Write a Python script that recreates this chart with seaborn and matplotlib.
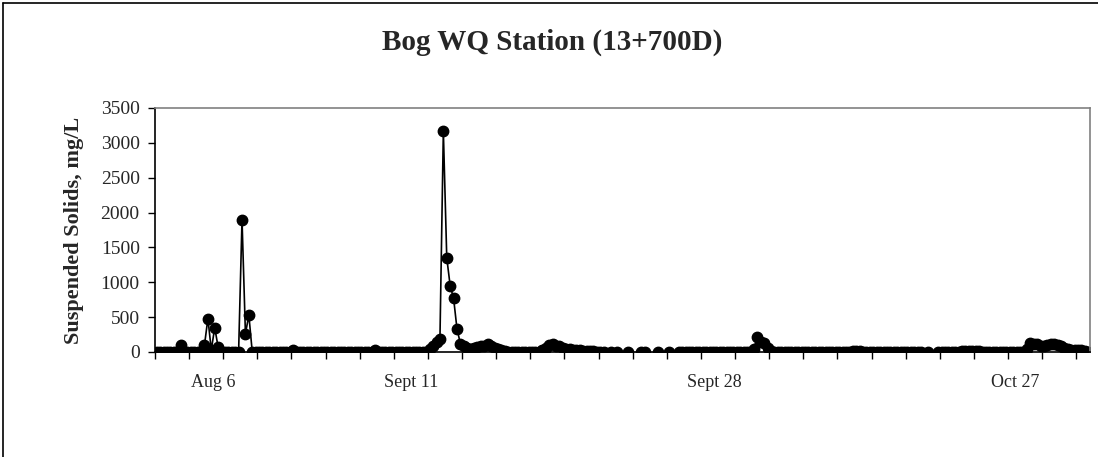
import numpy as np
import pandas as pd
import matplotlib
matplotlib.use('Agg')
import matplotlib.pyplot as plt
from matplotlib.lines import Line2D
import seaborn as sns

# daily suspended solids at the bog station, mg/L (None = no sample)
ss_aug = [
    0, 0, 0, 0, 0, 0, 0, 100, 0, 0,
    0, 0, 0, 0, 100, 480, 30, 350, 70, 0,
    0, 0, 0, 0, 0, 1900, 260, 530, 0, 0,
    0, 0, 0, 0, 0, 0, 0, 0, 0, 0,
    25, 0, 0, 0, 0, 0, 0, 0, 0, 0,
    0, 0, 0, 0, 0, 0, 0, 0, 0, 0,
    0, 0, 0, 0, 25, 0, 0, 0, 0, 0,
    0, 0, 0, 0, 0, 0, 0, 0, 0, 0,
]
ss_sept = [
    40, 90, 140, 180, 3170, 1350, 950, 770, 330, 120,
    80, 60, 50, 60, 75, 80, 90, 110, 80, 60,
    45, 35, 20, 5, 5, 5, 5, 5, 5, 5,
    5, 5, 5, 30, 60, 100, 110, 90, 80, 60,
    50, 45, 35, 30, 25, 20, 15, 10, 10, 5,
    5, 0, None, 0, None, 0, None, None, 0, None,
    None, None, 0, 0, None, None, None, 0, None, None,
    0, None, None, 0, 0, 0, 0, 0, 0, 0,
    0, 0, 0, 0, 0, 0, 0, 0, 0, 0,
    0, 0, 0, 0, 0, 50, 220, 140, 130, 60,
]
ss_oct = [
    15, 0, 0, 0, 0, 0, 0, 0, 0, 0,
    0, 0, 0, 0, 0, 0, 0, 0, 0, 0,
    0, 0, 0, 0, 15, 20, 10, 0, 0, 0,
    0, 0, 0, 0, 0, 0, 0, 0, 0, 0,
    0, 0, 0, 0, 0, None, 0, None, None, 0,
    0, 0, 0, 0, 0, 0, 10, 15, 20, 15,
    20, 10, 0, 0, 0, 0, 0, 0, 0, 0,
    0, 0, 0, 0, 0, 50, 130, 120, 110, 90,
    80, 100, 110, 110, 100, 80, 60, 40, 30, 30,
    30, 30, 20, 5,
]

date_labels = ['Aug 6', 'Sept 11', 'Sept 28', 'Oct 27']
date_label_pos = [16.5, 74.7, 163.4, 251.5]
y_ticks = [0, 500, 1000, 1500, 2000, 2500, 3000, 3500]

values = pd.Series(ss_aug + ss_sept + ss_oct, dtype=float)
df = pd.DataFrame({'day': np.arange(len(values)), 'ss': values})

sns.set_style('white')
plt.rcParams['font.family'] = ['Liberation Serif', 'DejaVu Serif']

fig = plt.figure(figsize=(10.98, 4.57), dpi=100)
ax = fig.add_axes([155 / 1098, 1 - 352 / 457, 935 / 1098, 244 / 457])

ax.plot(df['day'], df['ss'], color='black', lw=1.2, marker='o',
        markersize=7.5, markerfacecolor='black', markeredgecolor='black')

n = len(values)
ax.set_xlim(-0.5, n - 0.5)
ax.set_ylim(0, 3500)
ax.set_yticks(y_ticks)
ax.set_yticklabels([str(v) for v in y_ticks], fontsize=14)
ax.tick_params(axis='y', direction='out', length=5, width=1, color='black', pad=6, left=True)

# tick marks between categories every 10 days, labels only at dates
ax.set_xticks(np.arange(-0.5, n, 10), minor=True)
ax.set_xticks(date_label_pos)
ax.set_xticklabels(date_labels, fontsize=13)
ax.tick_params(axis='x', which='minor', direction='out', length=5, width=1, color='black', bottom=True)
ax.tick_params(axis='x', which='major', length=0, pad=16)

ax.set_ylabel('Suspended Solids, mg/L', fontsize=16, fontweight='bold', labelpad=12)

for side in ['left', 'bottom']:
    ax.spines[side].set_color('black')
    ax.spines[side].set_linewidth(1.2)
for side in ['top', 'right']:
    ax.spines[side].set_color('#808080')
    ax.spines[side].set_linewidth(1.2)
ax.grid(False)

fig.text(0.503, 0.907, 'Bog WQ Station (13+700D)', ha='center', va='center',
         fontsize=21, fontweight='bold')

# chart-area border (left and top edges visible)
fig.add_artist(Line2D([3 / 1098, 3 / 1098], [0, 1 - 3 / 457], color='black', lw=1.2))
fig.add_artist(Line2D([3 / 1098, 1], [1 - 3 / 457, 1 - 3 / 457], color='black', lw=1.2))

fig.savefig('out.png', dpi=100)
